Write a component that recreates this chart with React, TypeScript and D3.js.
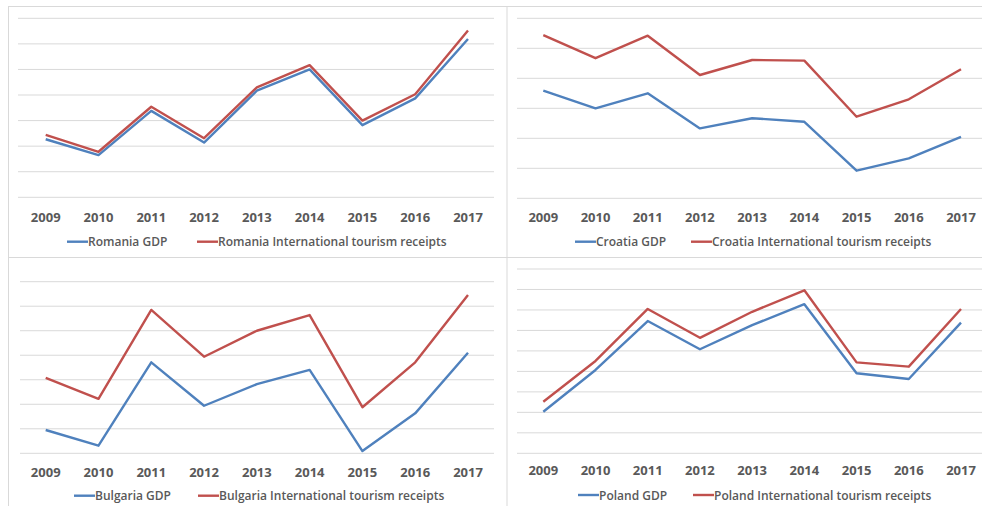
import React from "react";
import * as d3 from "d3";

const years = ["2009", "2010", "2011", "2012", "2013", "2014", "2015", "2016", "2017"];

const romaniaGDP = [2.27, 1.65, 3.38, 2.14, 4.17, 5.0, 2.82, 3.87, 6.19];
const romaniaTourism = [2.44, 1.78, 3.54, 2.31, 4.3, 5.17, 3.0, 4.03, 6.52];

const croatiaGDP = [3.59, 3.0, 3.5, 2.33, 2.67, 2.55, 0.92, 1.33, 2.05];
const croatiaTourism = [5.44, 4.67, 5.42, 4.11, 4.61, 4.59, 2.72, 3.3, 4.3];

const bulgariaGDP = [0.95, 0.31, 3.71, 1.94, 2.82, 3.4, 0.09, 1.63, 4.1];
const bulgariaTourism = [3.08, 2.22, 5.85, 3.94, 5.0, 5.64, 1.88, 3.71, 6.46];

const polandGDP = [2.03, 4.07, 6.46, 5.08, 6.26, 7.28, 3.91, 3.63, 6.38];
const polandTourism = [2.52, 4.51, 7.05, 5.64, 6.91, 7.96, 4.44, 4.23, 7.05];

const BLUE = "#4f81bd";
const RED = "#c0504d";
const GRID = "#d9d9d9";
const TEXT = "#595959";
const FONT = "'Open Sans', 'Liberation Sans', sans-serif";

type PanelProps = {
  country: string;
  gdp: number[];
  tourism: number[];
  yMax: number;
  xFirst: number;
  xLast: number;
  yTop: number;
  yBottom: number;
  gridLeft: number;
  gridRight: number;
  labelY: number;
  legendY: number;
  legBlue: number;
  legRed: number;
};

function Panel(p: PanelProps) {
  const x = d3.scalePoint<string>().domain(years).range([p.xFirst, p.xLast]);
  const y = d3.scaleLinear().domain([0, p.yMax]).range([p.yBottom, p.yTop]);
  const ticks = d3.range(0, p.yMax + 1);
  const line = d3
    .line<number>()
    .x((_, i) => x(years[i]) as number)
    .y((d) => y(d));
  return (
    <g>
      {ticks.map((t) => (
        <line
          key={t}
          x1={p.gridLeft}
          x2={p.gridRight}
          y1={y(t)}
          y2={y(t)}
          stroke={GRID}
          strokeWidth={1}
        />
      ))}
      <path d={line(p.gdp) || ""} fill="none" stroke={BLUE} strokeWidth={2.4} strokeLinejoin="round" />
      <path d={line(p.tourism) || ""} fill="none" stroke={RED} strokeWidth={2.4} strokeLinejoin="round" />
      {years.map((yr) => (
        <text
          key={yr}
          x={x(yr)}
          y={p.labelY}
          textAnchor="middle"
          dominantBaseline="central"
          fontFamily={FONT}
          fontSize={13}
          fontWeight={700}
          fill={TEXT}
        >
          {yr}
        </text>
      ))}
      <line x1={p.legBlue} x2={p.legBlue + 21} y1={p.legendY} y2={p.legendY} stroke={BLUE} strokeWidth={2.4} />
      <text
        x={p.legBlue + 21}
        y={p.legendY}
        dominantBaseline="central"
        fontFamily={FONT}
        fontSize={12}
        fontWeight={600}
        fill={TEXT}
      >
        {p.country + " GDP"}
      </text>
      <line x1={p.legRed} x2={p.legRed + 21} y1={p.legendY} y2={p.legendY} stroke={RED} strokeWidth={2.4} />
      <text
        x={p.legRed + 21}
        y={p.legendY}
        dominantBaseline="central"
        fontFamily={FONT}
        fontSize={12}
        fontWeight={600}
        fill={TEXT}
      >
        {p.country + " International tourism receipts"}
      </text>
    </g>
  );
}

export default function App() {
  return (
    <svg
      width={982}
      height={506}
      style={{ position: "absolute", left: 0, top: 0, background: "#fff" }}
    >
      <rect x={0} y={0} width={982} height={506} fill="#fff" />
      <line x1={8} x2={982} y1={6.5} y2={6.5} stroke={GRID} />
      <line x1={8.5} x2={8.5} y1={6} y2={506} stroke={GRID} />
      <line x1={507} x2={507} y1={6} y2={506} stroke={GRID} />
      <line x1={8} x2={982} y1={257.5} y2={257.5} stroke={GRID} />
      <Panel
        country="Romania"
        gdp={romaniaGDP}
        tourism={romaniaTourism}
        yMax={7}
        xFirst={45.7}
        xLast={468}
        yTop={18.3}
        yBottom={197.3}
        gridLeft={18}
        gridRight={494}
        labelY={216.7}
        legendY={241.7}
        legBlue={67}
        legRed={197}
      />
      <Panel
        country="Croatia"
        gdp={croatiaGDP}
        tourism={croatiaTourism}
        yMax={6}
        xFirst={543.3}
        xLast={961}
        yTop={18.3}
        yBottom={198.3}
        gridLeft={517}
        gridRight={982}
        labelY={216.7}
        legendY={241.7}
        legBlue={575}
        legRed={691}
      />
      <Panel
        country="Bulgaria"
        gdp={bulgariaGDP}
        tourism={bulgariaTourism}
        yMax={7}
        xFirst={45.7}
        xLast={468}
        yTop={281.7}
        yBottom={453.3}
        gridLeft={20}
        gridRight={494}
        labelY={471.7}
        legendY={495.7}
        legBlue={74}
        legRed={198}
      />
      <Panel
        country="Poland"
        gdp={polandGDP}
        tourism={polandTourism}
        yMax={9}
        xFirst={543.3}
        xLast={961}
        yTop={269}
        yBottom={453.3}
        gridLeft={517}
        gridRight={982}
        labelY={470}
        legendY={495}
        legBlue={578}
        legRed={693}
      />
    </svg>
  );
}
